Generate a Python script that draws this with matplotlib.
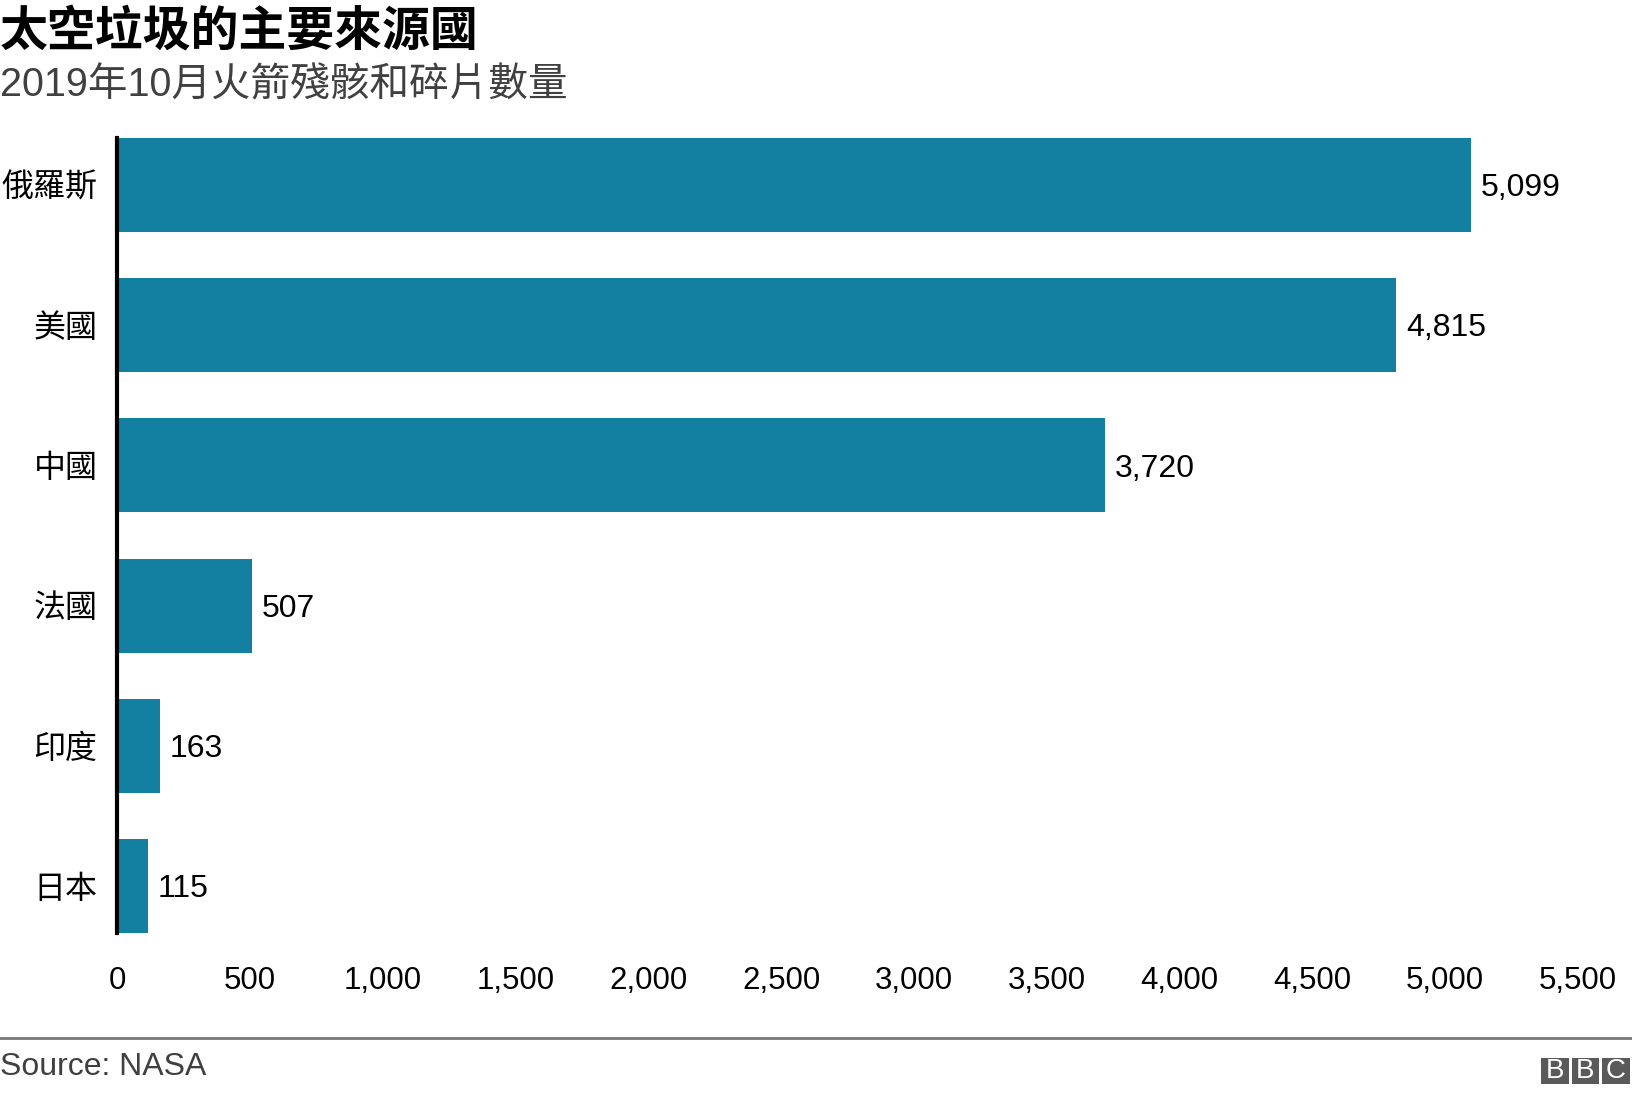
import matplotlib
matplotlib.use("Agg")
import matplotlib.pyplot as plt
from matplotlib.patches import Rectangle

categories = ["俄羅斯", "美國", "中國", "法國", "印度", "日本"]
values = [5099, 4815, 3720, 507, 163, 115]
xticks = [0, 500, 1000, 1500, 2000, 2500, 3000, 3500, 4000, 4500, 5000, 5500]
title = "太空垃圾的主要來源國"
subtitle = "2019年10月火箭殘骸和碎片數量"
source = "Source: NASA"

FAM = ["Liberation Sans", "Noto Sans CJK TC", "DejaVu Sans"]
plt.rcParams['font.family'] = FAM

W, H = 1632, 1094
fig = plt.figure(figsize=(W / 100, H / 100), dpi=100)

def fx(px):
    return px / W

def fy(py):
    return 1 - py / H

left, right, top, bottom = 117, 1578, 138, 933
ax = fig.add_axes([fx(left), fy(bottom), fx(right) - fx(left), fy(top) - fy(bottom)])

bar_h = 0.67
ypos = list(range(len(categories)))
ax.barh(ypos, values, height=bar_h, color="#1380A1", zorder=1)
ax.set_ylim(len(categories) - 1 + bar_h / 2, -bar_h / 2)
ax.set_xlim(0, 5500)

for spine in ["top", "right", "bottom"]:
    ax.spines[spine].set_visible(False)
ax.spines["left"].set_linewidth(3)
ax.spines["left"].set_color("black")
ax.spines["left"].set_zorder(3)

ax.set_yticks(ypos)
ax.set_yticklabels(categories, fontsize=23, family=FAM)
ax.set_xticks(xticks)
ax.set_xticklabels([f"{t:,}" for t in xticks], fontsize=22.5, family=FAM)
ax.tick_params(axis="x", length=0, pad=24, colors="#222222", labelcolor="black")
ax.tick_params(axis="y", length=0, pad=14, labelcolor="black")

for y, v in zip(ypos, values):
    ax.annotate(f"{v:,}", xy=(v, y), xytext=(7, -8), textcoords="offset points",
                va="baseline", ha="left", fontsize=23, color="black", family=FAM)

fig.text(0.0, fy(31), title, fontsize=34.5, fontweight="bold", va="center", ha="left",
         family=["Noto Sans CJK TC", "DejaVu Sans"], color="black")
fig.text(0.0, fy(85), subtitle, fontsize=28.5, va="center", ha="left", family=FAM, color="#404040")

fig.add_artist(plt.Line2D([0, 1], [fy(1038), fy(1038)], color="#777777", linewidth=2, transform=fig.transFigure))
fig.text(0.0, fy(1067), source, fontsize=23, va="center", ha="left", family=FAM, color="#404040")

# BBC logo
bw, bh, gap = 27.5, 26, 3
x0 = 1541
for i, letter in enumerate("BBC"):
    bx = x0 + i * (bw + gap)
    fig.add_artist(Rectangle((fx(bx), fy(1084)), fx(bw), bh / H, transform=fig.transFigure,
                             facecolor="#5a5a5a", edgecolor="none"))
    fig.text(fx(bx + bw / 2), fy(1071), letter, fontsize=20, color="white",
             ha="center", va="center", family=["Liberation Sans"])

fig.savefig("out.png", dpi=100, facecolor="white")
